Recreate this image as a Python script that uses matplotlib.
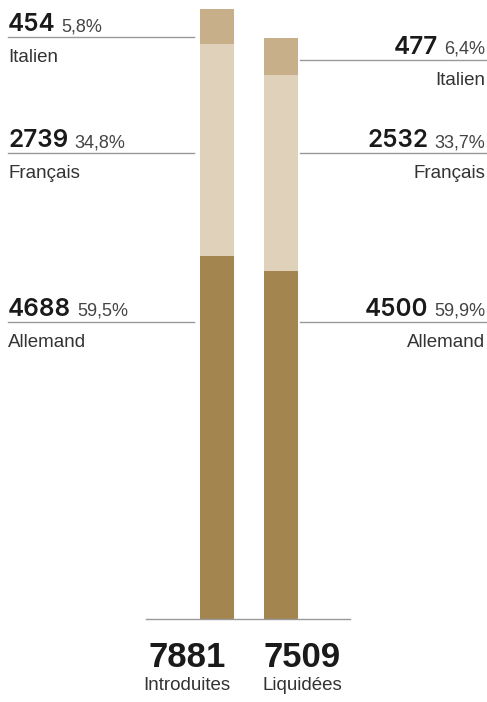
import numpy as np
import matplotlib.pyplot as plt

# language split of the items, per bar
langs = ["Allemand", "Français", "Italien"]
introduites = [4688, 2739, 454]
liquidees = [4500, 2532, 477]
bar_names = ["Introduites", "Liquidées"]
colors = ["#a3864f", "#e0d2ba", "#c7af8a"]

plt.rcParams["font.family"] = ["Liberation Sans", "DejaVu Sans"]

W, H = 487, 702
fig = plt.figure(figsize=(W / 100, H / 100), dpi=100)

# bar axes: baseline at y=619 px, tallest bar reaches y=9 px
ax = fig.add_axes([146 / W, (H - 619) / H, (350 - 146) / W, 610 / H])
series = [introduites, liquidees]
totals = [sum(s) for s in series]
x = np.arange(2)
bottoms = np.zeros(2)
for i, lang in enumerate(langs):
    vals = np.array([s[i] for s in series])
    ax.bar(x, vals, bottom=bottoms, width=34 / 64, color=colors[i], linewidth=0)
    bottoms += vals
ax.set_xlim(-71 / 64, 1 + 69 / 64)
ax.set_ylim(0, max(totals))
ax.axis("off")

# overlay in pixel coords for labels and leader lines
ov = fig.add_axes([0, 0, 1, 1])
ov.set_xlim(0, W)
ov.set_ylim(H, 0)
ov.axis("off")
ov.patch.set_alpha(0)

ov.plot([146, 350], [619, 619], color="#999999", lw=1)

def pct(v, tot):
    return f"{100 * v / tot:.1f}%".replace(".", ",")

NUM = dict(fontsize=17.5, fontweight="semibold", family=["Inter", "Liberation Sans"],
           color="#1a1a1a", va="baseline")
PCT = dict(fontsize=13, color="#444444", va="baseline")
LAB = dict(fontsize=13.5, color="#333333", va="baseline")

line_y = {"left": [322, 153, 37], "right": [322, 153, 60]}
renderer = fig.canvas.get_renderer()

for i, lang in enumerate(langs):
    # left side: introduites
    y = line_y["left"][i]
    ov.plot([8, 194], [y, y], color="#999999", lw=1)
    t = ov.text(8, y - 6, str(introduites[i]), ha="left", **NUM)
    w = t.get_window_extent(renderer).width
    ov.text(8 + w + 6, y - 6, pct(introduites[i], totals[0]), ha="left", **PCT)
    ov.text(8, y + 25, lang, ha="left", **LAB)

    # right side: liquidees
    y = line_y["right"][i]
    ov.plot([300, 487], [y, y], color="#999999", lw=1)
    p = ov.text(485, y - 6, pct(liquidees[i], totals[1]), ha="right", **PCT)
    w = p.get_window_extent(renderer).width
    ov.text(485 - w - 6, y - 6, str(liquidees[i]), ha="right", **NUM)
    ov.text(485, y + 25, lang, ha="right", **LAB)

# totals under the bars
for cx, tot, name in zip([187, 302], totals, bar_names):
    ov.text(cx, 667, str(tot), fontsize=25, fontweight="bold", color="#1a1a1a",
            ha="center", va="baseline")
    ov.text(cx, 690, name, ha="center", **LAB)

fig.savefig("out.png", dpi=100, facecolor="white")
